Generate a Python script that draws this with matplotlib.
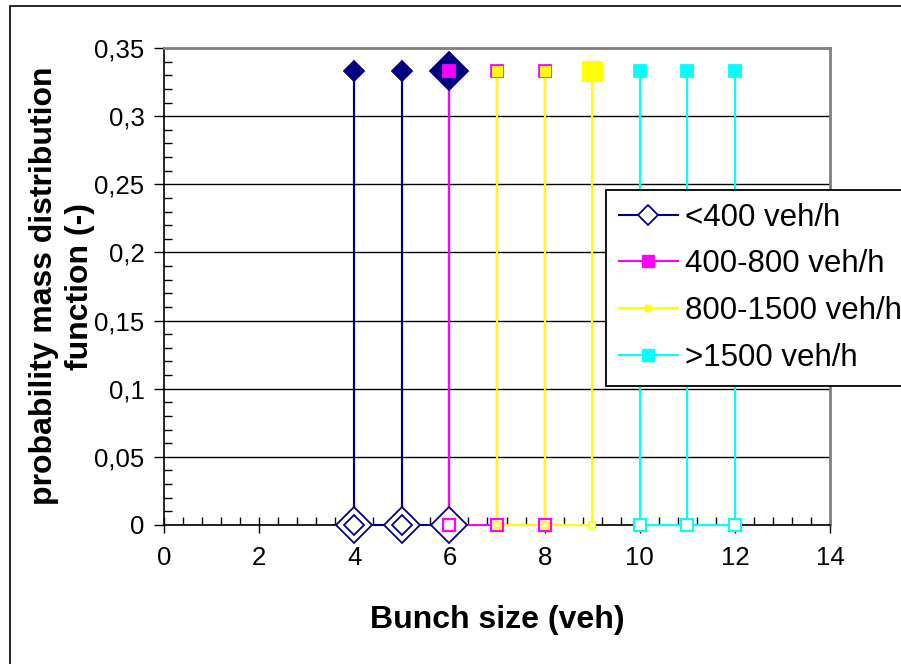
import numpy as np
import matplotlib
matplotlib.use("Agg")
import matplotlib.pyplot as plt
from matplotlib.lines import Line2D
from matplotlib.patches import Rectangle
from matplotlib.ticker import MultipleLocator

plt.rcParams['font.family'] = ['Liberation Sans', 'DejaVu Sans']

# bunch sizes and pmf per traffic flow class
labels = ["<400 veh/h", "400-800 veh/h", "800-1500 veh/h", ">1500 veh/h"]
x_lt400 = [4, 5, 6]
x_400_800 = [6, 7, 8]
x_800_1500 = [7, 8, 9]
x_gt1500 = [10, 11, 12]
p_lt400 = [0.3333, 0.3333, 0.3333]
p_400_800 = [0.3333, 0.3333, 0.3333]
p_800_1500 = [0.3333, 0.3333, 0.3333]
p_gt1500 = [0.3333, 0.3333, 0.3333]

y_ticks = [0, 0.05, 0.1, 0.15, 0.2, 0.25, 0.3, 0.35]
y_tick_labels = ["0", "0,05", "0,1", "0,15", "0,2", "0,25", "0,3", "0,35"]
x_ticks = [0, 2, 4, 6, 8, 10, 12, 14]

colors = ["#000080", "#FF00FF", "#FFFF00", "#00FFFF"]
all_x = [x_lt400, x_400_800, x_800_1500, x_gt1500]
all_p = [p_lt400, p_400_800, p_800_1500, p_gt1500]

fig = plt.figure(figsize=(9.01, 6.64), dpi=100)
ax = fig.add_axes([164 / 901, 1 - 525 / 664, (830 - 164) / 901, (525 - 48) / 664])

# outer chart frame (excel style)
fig.add_artist(Rectangle((10 / 901, -0.1), 2, 1.1 - 6 / 664, transform=fig.transFigure,
                         fill=False, edgecolor="black", lw=1.2))

# stems: each bunch size goes 0 -> p -> 0
for xs, ps, c in zip(all_x, all_p, colors):
    px, py = [], []
    for xv, pv in zip(xs, ps):
        px += [xv, xv, xv]
        py += [0, pv, 0]
    ax.plot(px, py, color=c, lw=1.5, zorder=3, clip_on=False)

# markers, top (filled) and bottom (hollow)
def mark(x, y, m, ms, c, filled, mew=1.3):
    ax.plot([x], [y], marker=m, ms=ms, mec=c, mfc=c if filled else "white",
            mew=mew, ls="none", zorder=4, clip_on=False)

# <400
for i, (xv, pv) in enumerate(zip(x_lt400, p_lt400)):
    mark(xv, pv, "D", 19.5 if i == 2 else 10.5, colors[0], True)
    mark(xv, 0, "D", 18, colors[0], False)
    if i < 2:
        mark(xv, 0, "D", 10, colors[0], False)
# 400-800
for i, (xv, pv) in enumerate(zip(x_400_800, p_400_800)):
    mark(xv, pv, "s", 8.5, colors[1], True)
    mark(xv, 0, "s", 8, colors[1], False, 1.6)
# 800-1500
for i, (xv, pv) in enumerate(zip(x_800_1500, p_800_1500)):
    mark(xv, pv, "s", 14.5 if i == 2 else 6.5, colors[2], True, 0.8)
    mark(xv, 0, "s", 5, colors[2], False, 1.3)
# >1500
for xv, pv in zip(x_gt1500, p_gt1500):
    mark(xv, pv, "s", 8.5, colors[3], True)
    mark(xv, 0, "s", 8.5, colors[3], False, 1.5)

ax.set_xlim(0, 14)
ax.set_ylim(0, 0.35)
ax.set_xticks(x_ticks)
ax.set_yticks(y_ticks)
ax.set_yticklabels(y_tick_labels)
ax.xaxis.set_minor_locator(MultipleLocator(0.4))
ax.yaxis.set_minor_locator(MultipleLocator(0.01))
ax.tick_params(which="major", direction="inout", length=12, width=1, labelsize=18.5, pad=9)
ax.tick_params(axis="y", which="major", direction="out", length=7, pad=7)
ax.tick_params(which="minor", direction="in", length=6, width=1)
ax.yaxis.grid(True, which="major", color="black", lw=1)
ax.set_axisbelow(True)
for s in ["top", "right"]:
    ax.spines[s].set_color("#808080")
    ax.spines[s].set_linewidth(2)
for s in ["left", "bottom"]:
    ax.spines[s].set_linewidth(1.2)

fig.text(497 / 901, 1 - 620 / 664, "Bunch size (veh)", ha="center", va="center",
         fontsize=23, fontweight="bold")
fig.text(62 / 901, 1 - 286 / 664, "probability mass distribution\nfunction (-)", ha="center",
         va="center", rotation=90, fontsize=23, fontweight="bold", linespacing=1.25)

handles = [
    Line2D([], [], color=colors[0], lw=1.5, marker="D", ms=10, mfc="white", mec=colors[0], mew=1.3),
    Line2D([], [], color=colors[1], lw=1.5, marker="s", ms=8, mfc=colors[1], mec=colors[1]),
    Line2D([], [], color=colors[2], lw=1.5, marker="s", ms=5, mfc=colors[2], mec=colors[2]),
    Line2D([], [], color=colors[3], lw=1.5, marker="s", ms=8, mfc=colors[3], mec=colors[3]),
]
leg = fig.legend(handles, labels, loc="upper left", bbox_to_anchor=(606 / 901, 1 - 190 / 664),
                 bbox_transform=fig.transFigure, borderaxespad=0, fontsize=22.5, fancybox=False,
                 framealpha=1, edgecolor="black", handlelength=1.9, handletextpad=0.22,
                 labelspacing=0.54, borderpad=0.4)
leg.get_frame().set_linewidth(1.3)

fig.savefig("out.png", dpi=100)
